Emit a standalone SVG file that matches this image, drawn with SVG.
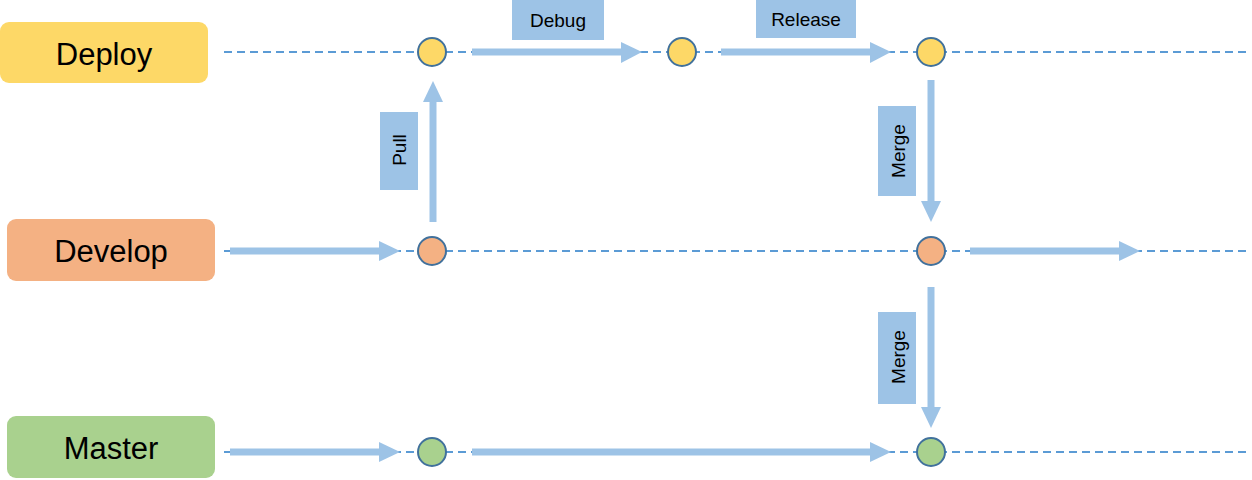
<svg xmlns="http://www.w3.org/2000/svg" width="1252" height="480" viewBox="0 0 1252 480">
<style>
.lane{stroke:#5B9BD5;stroke-width:2;stroke-dasharray:8 5;fill:none}
.arr{stroke:#9DC3E6;stroke-width:7;fill:none}
.head{fill:#9DC3E6}
.lbl{fill:#9DC3E6}
.lt{font-family:"Liberation Sans",Arial,sans-serif;font-size:19px;fill:#000;text-anchor:middle}
.nt{font-family:"Liberation Sans",Arial,sans-serif;font-size:31px;fill:#000;text-anchor:middle}
.c{stroke:#41719C;stroke-width:2}
</style>
<rect width="1252" height="480" fill="#fff"/>
<g id="lanes">
<line class="lane" x1="224" y1="52" x2="1248" y2="52"/>
<line class="lane" x1="224" y1="251" x2="1248" y2="251"/>
<line class="lane" x1="224" y1="452" x2="1248" y2="452"/>
</g>
<g id="deploy"><rect x="0" y="22" width="208" height="61" rx="9" fill="#FDD867"/><text class="nt" x="104" y="65">Deploy</text></g>
<g id="develop"><rect x="7" y="219" width="208" height="62" rx="9" fill="#F4B183"/><text class="nt" x="111" y="262">Develop</text></g>
<g id="master"><rect x="7" y="416" width="208" height="62" rx="9" fill="#A9D18E"/><text class="nt" x="111" y="459">Master</text></g>
<g id="connectors">
<line class="arr" x1="472" y1="52" x2="622" y2="52"/><polygon class="head" points="621,42 642,52 621,63"/>
<line class="arr" x1="721" y1="52" x2="871" y2="52"/><polygon class="head" points="870,42 891,52 870,63"/>
<line class="arr" x1="433" y1="222" x2="433" y2="101"/><polygon class="head" points="423,102 433,81 443,102"/>
<line class="arr" x1="931" y1="80" x2="931" y2="202"/><polygon class="head" points="921,201 931,222 941,201"/>
<line class="arr" x1="931" y1="287" x2="931" y2="408"/><polygon class="head" points="921,407 931,428 941,407"/>
<line class="arr" x1="230" y1="251" x2="380" y2="251"/><polygon class="head" points="379,241 400,251 379,261"/>
<line class="arr" x1="970" y1="251" x2="1120" y2="251"/><polygon class="head" points="1119,241 1140,251 1119,261"/>
<line class="arr" x1="230" y1="452" x2="380" y2="452"/><polygon class="head" points="379,442 400,452 379,462"/>
<line class="arr" x1="472" y1="452" x2="871" y2="452"/><polygon class="head" points="870,442 891,452 870,462"/>
</g>
<g id="labels">
<g id="lbl-debug"><rect class="lbl" x="512" y="0" width="92" height="40"/><text class="lt" x="558" y="27">Debug</text></g>
<g id="lbl-release"><rect class="lbl" x="756" y="0" width="100" height="38"/><text class="lt" x="806" y="26">Release</text></g>
<g id="lbl-pull"><rect class="lbl" x="380" y="112" width="38" height="78"/><text class="lt" transform="translate(406,150) rotate(-90)">Pull</text></g>
<g id="lbl-merge1"><rect class="lbl" x="878" y="106" width="38" height="90"/><text class="lt" transform="translate(905,151) rotate(-90)">Merge</text></g>
<g id="lbl-merge2"><rect class="lbl" x="878" y="312" width="38" height="92"/><text class="lt" transform="translate(905,357) rotate(-90)">Merge</text></g>
</g>
<g id="commits">
<circle id="d1" class="c" cx="432" cy="52" r="14" fill="#FDD867"/>
<circle id="d2" class="c" cx="682" cy="52" r="14" fill="#FDD867"/>
<circle id="d3" class="c" cx="931" cy="52" r="14" fill="#FDD867"/>
<circle id="v1" class="c" cx="432" cy="251" r="14" fill="#F4B183"/>
<circle id="v2" class="c" cx="931" cy="251" r="14" fill="#F4B183"/>
<circle id="m1" class="c" cx="432" cy="452" r="14" fill="#A9D18E"/>
<circle id="m2" class="c" cx="931" cy="452" r="14" fill="#A9D18E"/>
</g>
</svg>
